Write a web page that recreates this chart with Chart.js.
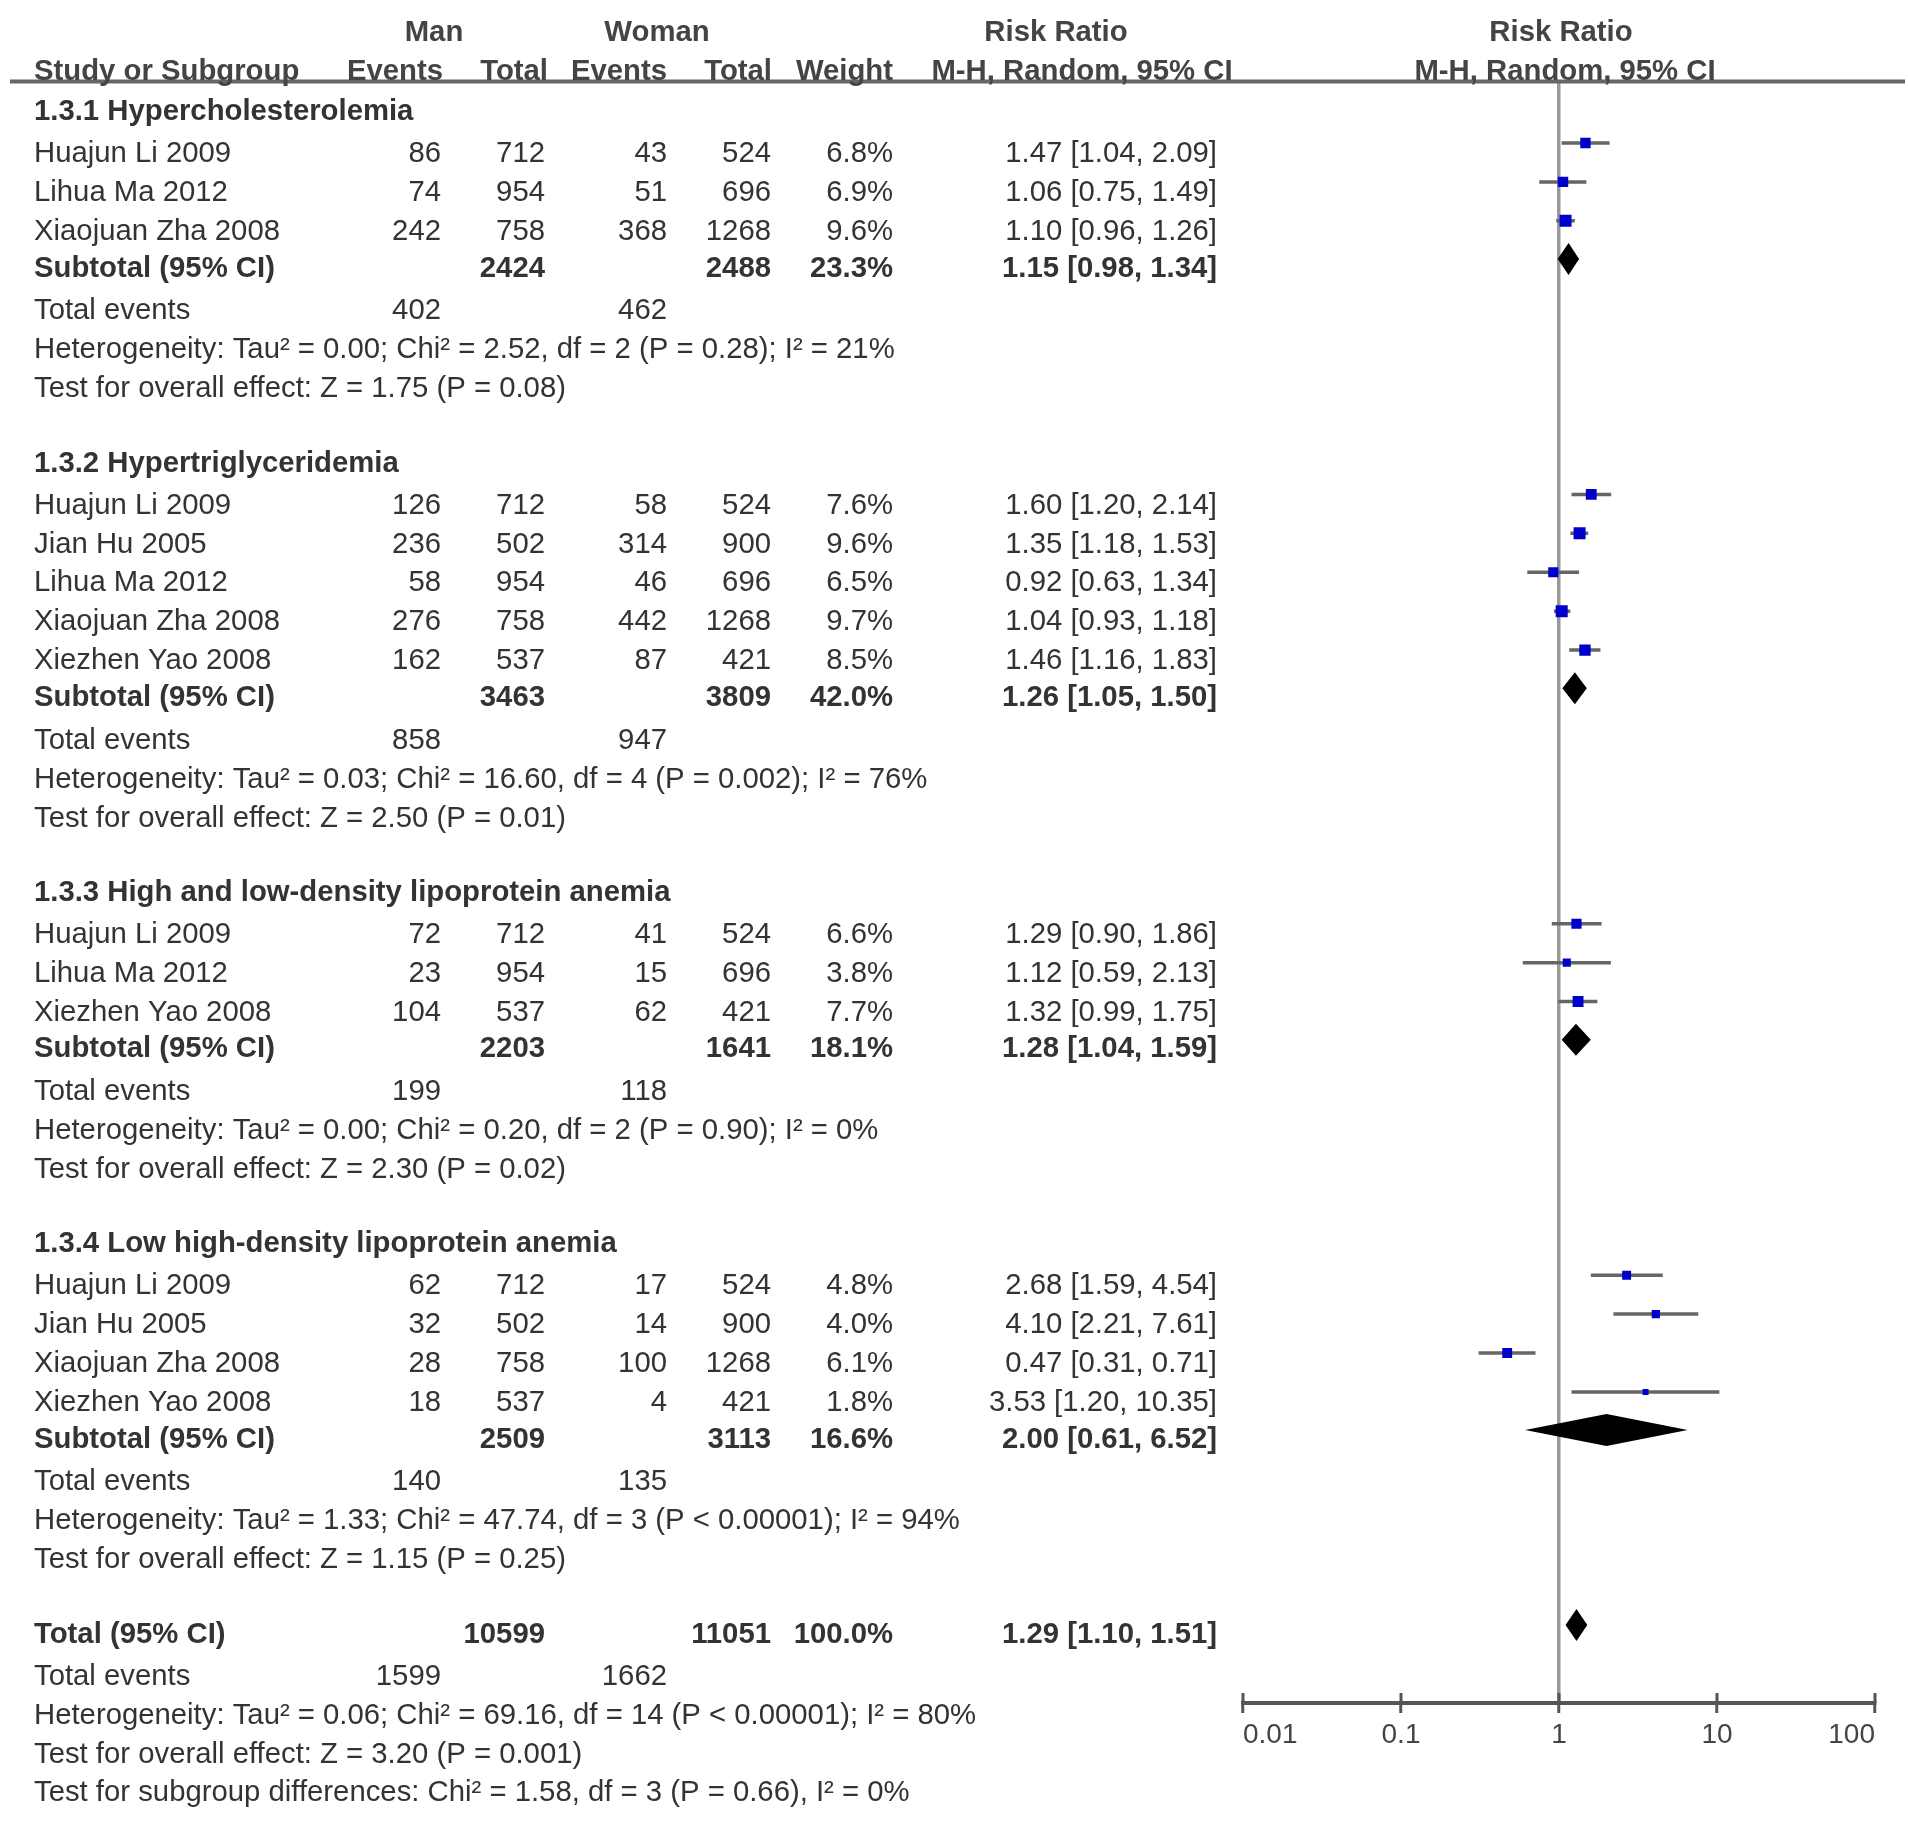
<!DOCTYPE html>
<html>
<head>
<meta charset="utf-8">
<title>Risk Ratio - M-H, Random, 95% CI</title>
<script src="https://cdn.jsdelivr.net/npm/chart.js@4.4.1/dist/chart.umd.min.js"></script>
<style>
  html, body { margin: 0; padding: 0; background: #fff; }
  #wrap { width: 1908px; height: 1833px; }
</style>
</head>
<body>
<div id="wrap"><canvas id="forest" width="1908" height="1833" style="width:1908px;height:1833px"></canvas></div>
<script>
// ---------------- data
const groupNames = [
  '1.3.1 Hypercholesterolemia',
  '1.3.2 Hypertriglyceridemia',
  '1.3.3 High and low-density lipoprotein anemia',
  '1.3.4 Low high-density lipoprotein anemia'
];

const studyGroup  = [0, 0, 0, 1, 1, 1, 1, 1, 2, 2, 2, 3, 3, 3, 3];
const studyNames  = ['Huajun Li 2009', 'Lihua Ma 2012', 'Xiaojuan Zha 2008',
                     'Huajun Li 2009', 'Jian Hu 2005', 'Lihua Ma 2012', 'Xiaojuan Zha 2008', 'Xiezhen Yao 2008',
                     'Huajun Li 2009', 'Lihua Ma 2012', 'Xiezhen Yao 2008',
                     'Huajun Li 2009', 'Jian Hu 2005', 'Xiaojuan Zha 2008', 'Xiezhen Yao 2008'];
const manEvents   = [86, 74, 242, 126, 236, 58, 276, 162, 72, 23, 104, 62, 32, 28, 18];
const manTotal    = [712, 954, 758, 712, 502, 954, 758, 537, 712, 954, 537, 712, 502, 758, 537];
const womanEvents = [43, 51, 368, 58, 314, 46, 442, 87, 41, 15, 62, 17, 14, 100, 4];
const womanTotal  = [524, 696, 1268, 524, 900, 696, 1268, 421, 524, 696, 421, 524, 900, 1268, 421];
const weights     = [6.8, 6.9, 9.6, 7.6, 9.6, 6.5, 9.7, 8.5, 6.6, 3.8, 7.7, 4.8, 4.0, 6.1, 1.8];
const rr          = [1.47, 1.06, 1.10, 1.60, 1.35, 0.92, 1.04, 1.46, 1.29, 1.12, 1.32, 2.68, 4.10, 0.47, 3.53];
const rrLow       = [1.04, 0.75, 0.96, 1.20, 1.18, 0.63, 0.93, 1.16, 0.90, 0.59, 0.99, 1.59, 2.21, 0.31, 1.20];
const rrHigh      = [2.09, 1.49, 1.26, 2.14, 1.53, 1.34, 1.18, 1.83, 1.86, 2.13, 1.75, 4.54, 7.61, 0.71, 10.35];

const subManTotal     = [2424, 3463, 2203, 2509];
const subWomanTotal   = [2488, 3809, 1641, 3113];
const subWeight       = [23.3, 42.0, 18.1, 16.6];
const subManEvents    = [402, 858, 199, 140];
const subWomanEvents  = [462, 947, 118, 135];
const subRR           = [1.15, 1.26, 1.28, 2.00];
const subLow          = [0.98, 1.05, 1.04, 0.61];
const subHigh         = [1.34, 1.50, 1.59, 6.52];
const hetText = [
  'Heterogeneity: Tau\u00b2 = 0.00; Chi\u00b2 = 2.52, df = 2 (P = 0.28); I\u00b2 = 21%',
  'Heterogeneity: Tau\u00b2 = 0.03; Chi\u00b2 = 16.60, df = 4 (P = 0.002); I\u00b2 = 76%',
  'Heterogeneity: Tau\u00b2 = 0.00; Chi\u00b2 = 0.20, df = 2 (P = 0.90); I\u00b2 = 0%',
  'Heterogeneity: Tau\u00b2 = 1.33; Chi\u00b2 = 47.74, df = 3 (P < 0.00001); I\u00b2 = 94%'
];
const effectText = [
  'Test for overall effect: Z = 1.75 (P = 0.08)',
  'Test for overall effect: Z = 2.50 (P = 0.01)',
  'Test for overall effect: Z = 2.30 (P = 0.02)',
  'Test for overall effect: Z = 1.15 (P = 0.25)'
];

const totalMan = 10599, totalWoman = 11051, totalWeight = 100.0;
const totalManEvents = 1599, totalWomanEvents = 1662;
const totalRR = [1.29, 1.10, 1.51];
const totalHet = 'Heterogeneity: Tau\u00b2 = 0.06; Chi\u00b2 = 69.16, df = 14 (P < 0.00001); I\u00b2 = 80%';
const totalEffect = 'Test for overall effect: Z = 3.20 (P = 0.001)';
const subgroupTest = 'Test for subgroup differences: Chi\u00b2 = 1.58, df = 3 (P = 0.66), I\u00b2 = 0%';

const tickValues = [0.01, 0.1, 1, 10, 100];
const tickLabels = ['0.01', '0.1', '1', '10', '100'];

// ---------------- layout
const FONT = '"Liberation Sans", Arial, Helvetica, sans-serif';
const TOP = 81.5, AXIS_Y = 1703, UNIT = 38.92;
const MARK_SHIFT = 0.22, DIAMOND_SHIFT = 0.18, TEXT_DROP = 2.5;
const COL = { name: 34, manEv: 441, manTot: 545, womEv: 667, womTot: 771, weight: 893, rr: 1217 };

// row positions in "line" units, top of the plot area = 0
const rows = [];
let pos = 0.72;
groupNames.forEach((name, g) => {
  rows.push({ kind: 'group', g, y: pos });
  pos += 1.08;
  studyGroup.forEach((sg, i) => {
    if (sg !== g) return;
    rows.push({ kind: 'study', i, y: pos });
    pos += 1;
  });
  pos -= 0.06;
  rows.push({ kind: 'subtotal', g, y: pos }); pos += 1.1;
  rows.push({ kind: 'events', g, y: pos }); pos += 1;
  rows.push({ kind: 'het', g, y: pos }); pos += 1;
  rows.push({ kind: 'effect', g, y: pos }); pos += 1.91;
});
rows.push({ kind: 'total', y: pos }); pos += 1.08;
rows.push({ kind: 'totalEvents', y: pos }); pos += 1;
rows.push({ kind: 'totalHet', y: pos }); pos += 1;
rows.push({ kind: 'totalEffect', y: pos }); pos += 1;
rows.push({ kind: 'subgroup', y: pos });

const studyY = [];
rows.forEach(r => { if (r.kind === 'study') studyY[r.i] = r.y - MARK_SHIFT; });

const squares = rr.map((v, i) => ({ x: v, y: studyY[i] }));
const squareRadius = weights.map(w => (1.43 + 3.41 * Math.sqrt(w)) / Math.SQRT2);
const whiskers = [];
rr.forEach((v, i) => {
  whiskers.push({ x: rrLow[i], y: studyY[i] }, { x: rrHigh[i], y: studyY[i] }, { x: null, y: null });
});

const diamonds = [];
rows.forEach(r => {
  if (r.kind === 'subtotal') diamonds.push({ est: subRR[r.g], lo: subLow[r.g], hi: subHigh[r.g], y: r.y - DIAMOND_SHIFT });
  if (r.kind === 'total') diamonds.push({ est: totalRR[0], lo: totalRR[1], hi: totalRR[2], y: r.y - DIAMOND_SHIFT });
});

const fmtRR = (e, l, h) => e.toFixed(2) + ' [' + l.toFixed(2) + ', ' + h.toFixed(2) + ']';
const pct = v => v.toFixed(1) + '%';

// ---------------- plugin: table text, header rule, diamonds
const forestTable = {
  id: 'forestTable',
  afterDatasetsDraw(chart) {
    const { ctx, scales: { x, y } } = chart;
    ctx.save();
    ctx.fillStyle = '#000';
    diamonds.forEach(d => {
      const py = y.getPixelForValue(d.y);
      const h = 16;
      ctx.beginPath();
      ctx.moveTo(x.getPixelForValue(d.lo), py);
      ctx.lineTo(x.getPixelForValue(d.est), py - h);
      ctx.lineTo(x.getPixelForValue(d.hi), py);
      ctx.lineTo(x.getPixelForValue(d.est), py + h);
      ctx.closePath();
      ctx.fill();
    });
    ctx.restore();
  },
  afterDraw(chart) {
    const { ctx, chartArea, scales: { x, y } } = chart;
    ctx.save();

    // header rule
    ctx.strokeStyle = '#666';
    ctx.lineWidth = 4;
    ctx.beginPath();
    ctx.moveTo(10, TOP);
    ctx.lineTo(1905, TOP);
    ctx.stroke();

    // upper half of the axis ticks
    ctx.strokeStyle = '#555';
    ctx.lineWidth = 3;
    x.ticks.forEach(t => {
      const px = x.getPixelForValue(t.value);
      ctx.beginPath();
      ctx.moveTo(px, chartArea.bottom - 10);
      ctx.lineTo(px, chartArea.bottom);
      ctx.stroke();
    });

    const put = (s, px, v, align, bold, color) => {
      ctx.font = (bold ? 'bold ' : '') + '29.3px ' + FONT;
      ctx.fillStyle = color || '#333';
      ctx.textAlign = align;
      ctx.textBaseline = 'middle';
      ctx.fillText(String(s), px, y.getPixelForValue(v) + TEXT_DROP);
    };

    // column headers
    const h1 = (30 - TOP) / UNIT, h2 = (69 - TOP) / UNIT;
    const hc = '#444';
    put('Man', 434, h1, 'center', true, hc);
    put('Woman', 657, h1, 'center', true, hc);
    put('Risk Ratio', 1056, h1, 'center', true, hc);
    put('Risk Ratio', 1561, h1, 'center', true, hc);
    put('Study or Subgroup', COL.name, h2, 'left', true, hc);
    put('Events', 443, h2, 'right', true, hc);
    put('Total', 548, h2, 'right', true, hc);
    put('Events', 667, h2, 'right', true, hc);
    put('Total', 772, h2, 'right', true, hc);
    put('Weight', 893, h2, 'right', true, hc);
    put('M-H, Random, 95% CI', 1082, h2, 'center', true, hc);
    put('M-H, Random, 95% CI', 1565, h2, 'center', true, hc);

    rows.forEach(r => {
      const v = r.y;
      switch (r.kind) {
        case 'group':
          put(groupNames[r.g], COL.name, v, 'left', true);
          break;
        case 'study': {
          const i = r.i;
          put(studyNames[i], COL.name, v, 'left');
          put(manEvents[i], COL.manEv, v, 'right');
          put(manTotal[i], COL.manTot, v, 'right');
          put(womanEvents[i], COL.womEv, v, 'right');
          put(womanTotal[i], COL.womTot, v, 'right');
          put(pct(weights[i]), COL.weight, v, 'right');
          put(fmtRR(rr[i], rrLow[i], rrHigh[i]), COL.rr, v, 'right');
          break;
        }
        case 'subtotal':
          put('Subtotal (95% CI)', COL.name, v, 'left', true);
          put(subManTotal[r.g], COL.manTot, v, 'right', true);
          put(subWomanTotal[r.g], COL.womTot, v, 'right', true);
          put(pct(subWeight[r.g]), COL.weight, v, 'right', true);
          put(fmtRR(subRR[r.g], subLow[r.g], subHigh[r.g]), COL.rr, v, 'right', true);
          break;
        case 'events':
          put('Total events', COL.name, v, 'left');
          put(subManEvents[r.g], COL.manEv, v, 'right');
          put(subWomanEvents[r.g], COL.womEv, v, 'right');
          break;
        case 'het':
          put(hetText[r.g], COL.name, v, 'left');
          break;
        case 'effect':
          put(effectText[r.g], COL.name, v, 'left');
          break;
        case 'total':
          put('Total (95% CI)', COL.name, v, 'left', true);
          put(totalMan, COL.manTot, v, 'right', true);
          put(totalWoman, COL.womTot, v, 'right', true);
          put(pct(totalWeight), COL.weight, v, 'right', true);
          put(fmtRR(totalRR[0], totalRR[1], totalRR[2]), COL.rr, v, 'right', true);
          break;
        case 'totalEvents':
          put('Total events', COL.name, v, 'left');
          put(totalManEvents, COL.manEv, v, 'right');
          put(totalWomanEvents, COL.womEv, v, 'right');
          break;
        case 'totalHet':
          put(totalHet, COL.name, v, 'left');
          break;
        case 'totalEffect':
          put(totalEffect, COL.name, v, 'left');
          break;
        case 'subgroup':
          put(subgroupTest, COL.name, v, 'left');
          break;
      }
    });
    ctx.restore();
  }
};

// ---------------- chart
const graph = document.querySelector('#forest');

const data = {
  datasets: [{
    label: 'Risk ratio',
    data: squares,
    pointStyle: 'rect',
    pointRadius: squareRadius,
    backgroundColor: '#0000cc',
    borderWidth: 0
  }, {
    label: '95% CI',
    data: whiskers,
    showLine: true,
    spanGaps: false,
    pointRadius: 0,
    borderColor: '#666',
    borderWidth: 3.5,
    borderCapStyle: 'butt'
  }]
};

const config = {
  type: 'scatter',
  data: data,
  options: {
    responsive: false,
    animation: false,
    events: [],
    layout: { padding: { left: 1243, right: 33, top: TOP, bottom: 70 } },
    plugins: {
      legend: { display: false },
      tooltip: { enabled: false }
    },
    scales: {
      x: {
        type: 'logarithmic',
        min: 0.01,
        max: 100,
        afterBuildTicks: s => { s.ticks = tickValues.map(v => ({ value: v })); },
        afterFit: s => { s.height = 60; },
        ticks: {
          align: 'inner',
          padding: 5,
          autoSkip: false,
          maxRotation: 0,
          color: '#444',
          font: { family: FONT, size: 28 },
          callback: (v, i) => tickLabels[i]
        },
        grid: {
          color: c => (c.tick && c.tick.value === 1) ? '#999' : 'rgba(0,0,0,0)',
          lineWidth: 3.5,
          drawTicks: true,
          tickLength: 10,
          tickColor: '#555',
          tickWidth: 3
        },
        border: { display: true, color: '#555', width: 4 }
      },
      y: {
        type: 'linear',
        min: 0,
        max: (AXIS_Y - TOP) / UNIT,
        reverse: true,
        display: false
      }
    }
  },
  plugins: [forestTable]
};

new Chart(graph, config);
</script>
</body>
</html>
